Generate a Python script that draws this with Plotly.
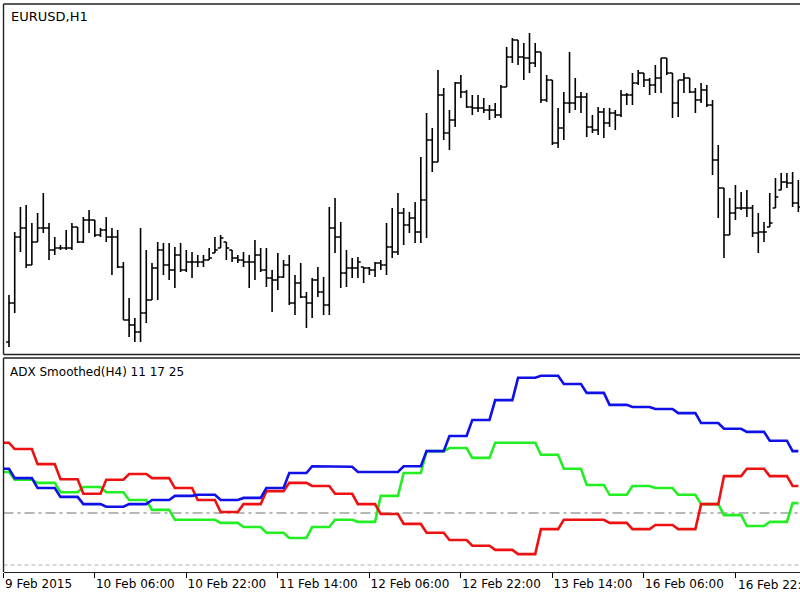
import plotly.graph_objects as go

# ---------------- data ----------------
bar_index = list(range(139))   # H1 bars, left to right

opens = [1.12748,1.12982,1.13378,1.13432,1.13210,1.13348,1.13432,1.13432,1.13300,1.13312,
1.13312,1.13312,1.13438,1.13348,1.13480,1.13480,1.13390,1.13420,1.13378,1.13378,
1.13198,1.12880,1.12850,1.12808,1.12922,1.13000,1.13192,1.13300,1.13210,1.13180,
1.13270,1.13180,1.13228,1.13228,1.13228,1.13240,1.13282,1.13312,1.13348,1.13300,
1.13252,1.13240,1.13228,1.13228,1.13270,1.13180,1.13132,1.13120,1.13138,1.13210,
1.12982,1.13102,1.13018,1.12982,1.13120,1.13048,1.12970,1.13432,1.13378,1.13162,
1.13192,1.13192,1.13198,1.13192,1.13180,1.13222,1.13210,1.13318,1.13288,1.13522,
1.13450,1.13492,1.13408,1.13600,1.13960,1.13828,1.14230,1.14002,1.14080,1.14302,
1.14248,1.14158,1.14152,1.14152,1.14140,1.14140,1.14110,1.14278,1.14458,1.14560,
1.14458,1.14452,1.14422,1.14488,1.14200,1.14320,1.13942,1.14032,1.14182,1.14182,
1.14218,1.14218,1.14038,1.14020,1.14128,1.14062,1.14122,1.14110,1.14230,1.14230,
1.14302,1.14362,1.14320,1.14290,1.14332,1.14452,1.14362,1.14182,1.14320,1.14332,
1.14248,1.14200,1.14260,1.14170,1.13840,1.13672,1.13390,1.13522,1.13552,1.13552,
1.13552,1.13402,1.13408,1.13438,1.13552,1.13660,1.13708,1.13702,1.13582]

highs = [1.13030,1.13408,1.13558,1.13570,1.13462,1.13522,1.13642,1.13462,1.13378,1.13330,
1.13420,1.13462,1.13438,1.13498,1.13540,1.13480,1.13432,1.13498,1.13432,1.13420,
1.13228,1.13012,1.12892,1.13432,1.13300,1.13222,1.13348,1.13342,1.13342,1.13318,
1.13342,1.13300,1.13288,1.13270,1.13270,1.13312,1.13378,1.13390,1.13348,1.13300,
1.13270,1.13288,1.13270,1.13360,1.13312,1.13312,1.13180,1.13282,1.13240,1.13270,
1.13150,1.13222,1.13048,1.13132,1.13198,1.13138,1.13558,1.13612,1.13468,1.13300,
1.13252,1.13258,1.13198,1.13198,1.13228,1.13240,1.13462,1.13552,1.13642,1.13552,
1.13528,1.13588,1.13858,1.14122,1.14032,1.14380,1.14272,1.14140,1.14308,1.14350,
1.14260,1.14230,1.14230,1.14212,1.14170,1.14182,1.14290,1.14518,1.14572,1.14560,
1.14542,1.14602,1.14542,1.14488,1.14350,1.14320,1.14152,1.14248,1.14488,1.14332,
1.14248,1.14242,1.14110,1.14158,1.14152,1.14152,1.14140,1.14260,1.14242,1.14362,
1.14380,1.14362,1.14332,1.14410,1.14452,1.14452,1.14362,1.14320,1.14362,1.14332,
1.14272,1.14302,1.14290,1.14200,1.13930,1.13672,1.13612,1.13690,1.13648,1.13660,
1.13570,1.13522,1.13468,1.13642,1.13732,1.13762,1.13762,1.13768,1.13720]

lows = [1.12718,1.12922,1.13288,1.13192,1.13210,1.13348,1.13402,1.13240,1.13270,1.13300,
1.13300,1.13300,1.13342,1.13342,1.13402,1.13378,1.13378,1.13348,1.13150,1.13192,
1.12880,1.12778,1.12748,1.12748,1.12862,1.13000,1.13000,1.13150,1.13120,1.13072,
1.13168,1.13168,1.13132,1.13198,1.13198,1.13240,1.13282,1.13312,1.13240,1.13228,
1.13222,1.13198,1.13072,1.13120,1.13168,1.13078,1.12928,1.13060,1.13132,1.12970,
1.12910,1.13012,1.12832,1.12892,1.13018,1.12910,1.12910,1.13282,1.13072,1.13078,
1.13132,1.13132,1.13102,1.13150,1.13138,1.13180,1.13150,1.13252,1.13270,1.13330,
1.13402,1.13342,1.13342,1.13372,1.13768,1.13828,1.13960,1.13900,1.14038,1.14212,
1.14152,1.14110,1.14128,1.14122,1.14080,1.14092,1.14092,1.14278,1.14422,1.14410,
1.14320,1.14362,1.14398,1.14182,1.14188,1.13930,1.13912,1.13960,1.14122,1.14140,
1.14122,1.13978,1.14002,1.13990,1.13972,1.14038,1.14020,1.14098,1.14170,1.14170,
1.14290,1.14278,1.14230,1.14242,1.14242,1.14350,1.14092,1.14098,1.14242,1.14242,
1.14122,1.14182,1.14158,1.13750,1.13492,1.13252,1.13390,1.13480,1.13540,1.13498,
1.13378,1.13282,1.13348,1.13438,1.13552,1.13660,1.13672,1.13558,1.13528]

closes = [1.12982,1.13378,1.13432,1.13210,1.13348,1.13432,1.13432,1.13300,1.13312,1.13312,
1.13312,1.13438,1.13348,1.13480,1.13480,1.13390,1.13420,1.13378,1.13378,1.13198,
1.12880,1.12850,1.12808,1.12922,1.13000,1.13192,1.13300,1.13210,1.13180,1.13270,
1.13180,1.13228,1.13228,1.13228,1.13240,1.13252,1.13300,1.13372,1.13312,1.13252,
1.13240,1.13228,1.13228,1.13270,1.13180,1.13132,1.13120,1.13138,1.13210,1.12982,
1.13102,1.13018,1.12982,1.13120,1.13048,1.12970,1.13432,1.13378,1.13162,1.13192,
1.13192,1.13228,1.13192,1.13180,1.13222,1.13210,1.13318,1.13288,1.13522,1.13450,
1.13492,1.13408,1.13600,1.13960,1.13828,1.14230,1.14002,1.14080,1.14302,1.14248,
1.14158,1.14152,1.14152,1.14140,1.14140,1.14110,1.14278,1.14458,1.14560,1.14458,
1.14452,1.14422,1.14488,1.14200,1.14320,1.13942,1.14032,1.14182,1.14182,1.14218,
1.14218,1.14038,1.14020,1.14128,1.14062,1.14122,1.14110,1.14230,1.14230,1.14302,
1.14362,1.14320,1.14290,1.14332,1.14452,1.14362,1.14182,1.14320,1.14332,1.14248,
1.14200,1.14260,1.14170,1.13840,1.13672,1.13390,1.13522,1.13552,1.13552,1.13552,
1.13402,1.13408,1.13408,1.13462,1.13618,1.13708,1.13702,1.13582,1.13558]

adx_index = list(range(-1, 139))

adx_blue = [28.5, 28.5,
26.7,26.7,26.7,26.7, 24.8,24.8,24.8,24.8, 23.1,23.1,23.1,23.1, 21.7,21.7,21.7,21.7,
21.2,21.2,21.2,21.2, 21.7,21.7,21.7,21.7, 22.5,22.5,22.5,22.5, 23.3,23.3,23.3,23.3,
23.5,23.5,23.5,23.5, 22.5,22.5,22.5,22.5, 22.9,22.9,22.9,22.9, 24.8,24.8,24.8,24.8,
27.7,27.7,27.7,27.7, 29.0,29.0,29.0,29.0, 28.9,28.9,28.9,28.9, 27.9,27.9,27.9,27.9,
27.9,27.9,27.9,27.9, 29.0,29.0,29.0,29.0, 31.9,31.9,31.9,31.9, 34.8,34.8,34.8,34.8,
37.9,37.9,37.9,37.9, 41.7,41.7,41.7,41.7, 46.0,46.0,46.0,46.0, 46.4,46.4,46.4,46.4,
44.8,44.8,44.8,44.8, 43.1,43.1,43.1,43.1, 40.8,40.8,40.8,40.8, 40.4,40.4,40.4,40.4,
40.0,40.0,40.0,40.0, 39.2,39.2,39.2,39.2, 37.3,37.3,37.3,37.3, 36.2,36.2,36.2,36.2,
35.6,35.6,35.6,35.6, 33.9,33.9,33.9,33.9,
31.9, 31.9]

adx_green = [27.9, 27.9,
26.4,26.4,26.4,26.4, 25.8,25.8,25.8,25.8, 24.0,24.0,24.0,24.0, 25.0,25.0,25.0,25.0,
24.0,24.0,24.0,24.0, 22.5,22.5,22.5,22.5, 20.6,20.6,20.6,20.6, 18.7,18.7,18.7,18.7,
18.7,18.7,18.7,18.7, 18.1,18.1,18.1,18.1, 17.3,17.3,17.3,17.3, 16.2,16.2,16.2,16.2,
15.2,15.2,15.2,15.2, 17.3,17.3,17.3,17.3, 18.7,18.7,18.7,18.7, 18.3,18.3,18.3,18.3,
23.3,23.3,23.3,23.3, 27.7,27.7,27.7,27.7, 31.9,31.9,31.9,31.9, 32.5,32.5,32.5,32.5,
30.6,30.6,30.6,30.6, 33.5,33.5,33.5,33.5, 33.5,33.5,33.5,33.5, 31.2,31.2,31.2,31.2,
28.5,28.5,28.5,28.5, 25.4,25.4,25.4,25.4, 23.5,23.5,23.5,23.5, 25.2,25.2,25.2,25.2,
24.8,24.8,24.8,24.8, 23.5,23.5,23.5,23.5, 21.7,21.7,21.7,21.7, 19.6,19.6,19.6,19.6,
17.5,17.5,17.5,17.5, 18.3,18.3,18.3,18.3,
21.9, 21.9]

adx_red = [33.5, 33.5,
32.3,32.3,32.3,32.3, 29.4,29.4,29.4,29.4, 26.5,26.5,26.5,26.5, 23.7,23.7,23.7,23.7,
26.4,26.4,26.4,26.4, 27.5,27.5,27.5,27.5, 26.7,26.7,26.7,26.7, 24.8,24.8,24.8,24.8,
22.5,22.5,22.5,22.5, 20.2,20.2,20.2,20.2, 21.7,21.7,21.7,21.7, 24.2,24.2,24.2,24.2,
25.8,25.8,25.8,25.8, 25.2,25.2,25.2,25.2, 23.7,23.7,23.7,23.7, 21.7,21.7,21.7,21.7,
19.8,19.8,19.8,19.8, 17.9,17.9,17.9,17.9, 16.2,16.2,16.2,16.2, 14.8,14.8,14.8,14.8,
13.7,13.7,13.7,13.7, 12.9,12.9,12.9,12.9, 12.1,12.1,12.1,12.1, 16.9,16.9,16.9,16.9,
18.7,18.7,18.7,18.7, 18.7,18.7,18.7,18.7, 18.1,18.1,18.1,18.1, 16.9,16.9,16.9,16.9,
17.7,17.7,17.7,17.7, 16.9,16.9,16.9,16.9, 21.7,21.7,21.7,21.7, 27.1,27.1,27.1,27.1,
28.5,28.5,28.5,28.5, 27.1,27.1,27.1,27.1,
25.2, 25.2]

adx_levels = [20, 10]

tick_bars = [-0.9, 15, 31, 47, 63, 79, 95, 111, 127]
tick_labels = ["9 Feb 2015", "10 Feb 06:00", "10 Feb 22:00", "11 Feb 14:00",
               "12 Feb 06:00", "12 Feb 22:00", "13 Feb 14:00", "16 Feb 06:00",
               "16 Feb 22:00"]

# ---------------- layout helpers ----------------
W, H = 800, 600
def px_x(p): return p / W
def px_y(p): return (H - p) / H

FONT = "DejaVu Sans"
FRAME = "#222222"
x_range = [-0.96, 138.29]
x_dom = [px_x(3.5), 1.0]
TICK_FS = 12

fig = go.Figure()

fig.add_trace(go.Ohlc(
    x=bar_index, open=opens, high=highs, low=lows, close=closes,
    xaxis="x", yaxis="y",
    increasing=dict(line=dict(color="black", width=1.6)),
    decreasing=dict(line=dict(color="black", width=1.6)),
    tickwidth=0.5, showlegend=False, hoverinfo="skip"))

for vals, col in [(adx_green, "#22ee22"), (adx_red, "#ee1111"), (adx_blue, "#1010e8")]:
    fig.add_trace(go.Scatter(
        x=adx_index, y=vals, xaxis="x2", yaxis="y2", mode="lines",
        line=dict(color=col, width=2.6), showlegend=False, hoverinfo="skip"))

shapes = []
# level lines
shapes.append(dict(type="line", xref="x2 domain", yref="y2", x0=0, x1=1,
                   y0=adx_levels[0], y1=adx_levels[0], layer="below",
                   line=dict(color="#707070", width=1.2, dash="10px,4px,3px,4px")))
shapes.append(dict(type="line", xref="x2 domain", yref="y2", x0=0, x1=1,
                   y0=adx_levels[1], y1=adx_levels[1], layer="below",
                   line=dict(color="#b0b0b0", width=1.2, dash="4px,3px")))
# frames
for y in [4, 354.5, 358]:
    shapes.append(dict(type="line", xref="paper", yref="paper",
                       x0=px_x(3.5), x1=1.0, y0=px_y(y), y1=px_y(y),
                       line=dict(color=FRAME, width=1.4)))
for (ya, yb) in [(4, 354.5), (358, 572)]:
    shapes.append(dict(type="line", xref="paper", yref="paper",
                       x0=px_x(3.5), x1=px_x(3.5), y0=px_y(ya), y1=px_y(yb),
                       line=dict(color=FRAME, width=1.4)))

# last label overflows the right edge; draw it as an annotation so it is clipped, not dropped
axis_ticktext = tick_labels[:-1] + [""]
annotations = [
    dict(text="EURUSD,H1", xref="paper", yref="paper", x=px_x(9), y=px_y(17),
         xanchor="left", yanchor="middle", showarrow=False,
         font=dict(family=FONT, size=13, color="black")),
    dict(text="ADX Smoothed(H4) 11 17 25", xref="paper", yref="paper",
         x=px_x(8), y=px_y(371.5), xanchor="left", yanchor="middle",
         showarrow=False, font=dict(family=FONT, size=12, color="black")),
    dict(text=tick_labels[-1], xref="x2", yref="paper", x=tick_bars[-1],
         y=px_y(585), xanchor="left", yanchor="middle", xshift=1,
         showarrow=False, font=dict(family=FONT, size=TICK_FS, color="black")),
]

fig.update_layout(
    width=W, height=H, autosize=False, template="none",
    margin=dict(l=0, r=0, t=0, b=0, pad=0),
    paper_bgcolor="white", plot_bgcolor="white",
    font=dict(family=FONT, color="black"),
    showlegend=False,
    xaxis=dict(domain=x_dom, range=x_range, anchor="y", showticklabels=False,
               showgrid=False, zeroline=False, showline=False, ticks="",
               rangeslider=dict(visible=False), automargin=False, fixedrange=True),
    yaxis=dict(domain=[px_y(354.5), px_y(4)], range=[1.12673, 1.14776],
               showticklabels=False, showgrid=False, zeroline=False,
               showline=False, ticks="", automargin=False, fixedrange=True),
    xaxis2=dict(domain=x_dom, range=x_range, anchor="y2",
                tickmode="array", tickvals=tick_bars, ticktext=axis_ticktext,
                ticks="outside", ticklen=5, tickwidth=1, tickcolor="black",
                ticklabelposition="outside right",
                tickfont=dict(family=FONT, size=TICK_FS, color="black"),
                showgrid=False, zeroline=False,
                showline=True, linecolor=FRAME, linewidth=1.4,
                automargin=False, fixedrange=True),
    yaxis2=dict(domain=[px_y(572), px_y(358)], range=[8.654, 49.81],
                showticklabels=False, showgrid=False, zeroline=False,
                showline=False, ticks="", automargin=False, fixedrange=True),
    shapes=shapes,
    annotations=annotations,
)

fig.write_html("out.html")
